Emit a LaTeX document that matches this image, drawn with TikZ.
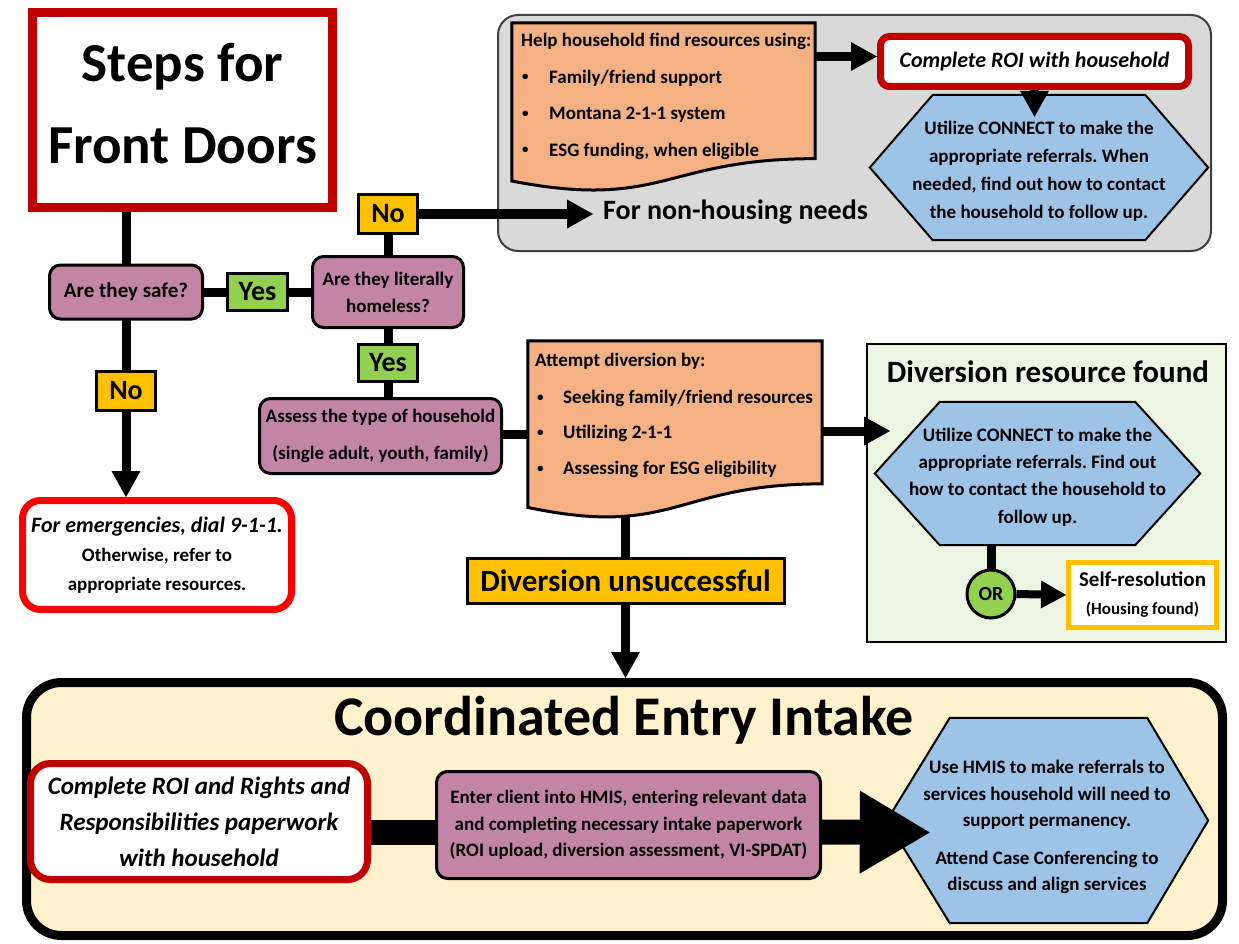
\documentclass[tikz,border=0pt]{standalone}
\usepackage{fontspec}
\setmainfont{Carlito}
\usetikzlibrary{arrows.meta,calc}
\pgfdeclarelayer{bg}
\pgfdeclarelayer{conn}
\pgfdeclarelayer{shapes}
\pgfsetlayers{bg,conn,shapes,main}
\definecolor{cpurple}{RGB}{194,133,166}
\definecolor{corange}{RGB}{244,177,131}
\definecolor{cblue}{RGB}{157,195,230}
\definecolor{cgreen}{RGB}{146,208,80}
\definecolor{camber}{RGB}{255,192,0}
\definecolor{cdred}{RGB}{192,0,0}
\definecolor{cred}{RGB}{255,0,0}
\definecolor{cgray}{RGB}{217,217,217}
\definecolor{cpale}{RGB}{236,244,227}
\definecolor{ccream}{RGB}{255,242,204}
\frenchspacing
\newcommand\myfont[2]{\fontsize{#1}{#2}\selectfont\bfseries\frenchspacing}
\newcommand\mybullet[1]{\makebox[#1][l]{\raisebox{2.5pt}{\fontsize{13}{13}\selectfont •}}}
\tikzset{
  pbox/.style={draw=black, line width=3pt, fill=cpurple, rounded corners=11pt, inner sep=0pt, align=center},
  tagbox/.style={draw=black, line width=3pt, inner sep=0pt, font=\myfont{28}{30}},
  hexnode/.style={inner sep=0pt},
  hextext/.style={inner sep=0pt, align=center},
  hexline/.style={draw=black, line width=2pt, fill=cblue},
  docline/.style={draw=black, line width=3pt, fill=corange},
  txt/.style={inner sep=0pt, font=\myfont{19}{22}},
  conn/.style={line width=9pt},
  arrowconn/.style={line width=9pt, -{Triangle[length=26pt,width=29pt,line width=0pt]}},
  bar/.style={line width=25pt},
  bigarrow/.style={line width=25pt, -{Triangle[length=70pt,width=83pt,line width=0pt]}},
  panel/.style={inner sep=0pt}
}
\begin{document}
\begin{tikzpicture}[x=1pt,y=-1pt]
\useasboundingbox (0,0) rectangle (1239,944);
\begin{pgfonlayer}{bg}
  \fill[white] (0,0) rectangle (1239,944);
  \node[panel, draw=black!75, line width=2pt, fill=cgray, rounded corners=20pt,
        minimum width=713pt, minimum height=236pt] (graypanel) at (854.5,133) {};
  \node[panel, draw=black, line width=2pt, fill=cpale,
        minimum width=359pt, minimum height=298pt] (greenpanel) at (1046.5,493) {};
  \node[panel, draw=black, line width=9pt, fill=ccream, rounded corners=35pt,
        minimum width=1196pt, minimum height=253pt] (cei) at (624.5,809) {};
\end{pgfonlayer}

% title
\node[draw=cdred, line width=9pt, fill=white, minimum width=300pt, minimum height=195pt,
      inner sep=0pt] (title) at (182.5,110) {};
\node[inner sep=0pt, align=center, font=\myfont{55}{82}] (titletxt) at (182.5,104) {Steps for\\Front Doors};

% decision column
\node[pbox, minimum width=153pt, minimum height=54pt, font=\myfont{21}{25}] (safe) at (126,292) {Are they safe?};
\node[tagbox, fill=cgreen, minimum width=60pt, minimum height=37pt] (yes1) at (257.5,292) {Yes};
\node[pbox, minimum width=151pt, minimum height=71pt, font=\myfont{19}{27}] (home) at (388,292) {Are they literally\\homeless?};
\node[tagbox, fill=camber, minimum width=59pt, minimum height=39pt] (no1) at (388,214) {No};
\node[tagbox, fill=cgreen, minimum width=59pt, minimum height=37pt] (yes2) at (388,363) {Yes};
\node[pbox, minimum width=242pt, minimum height=75pt, font=\myfont{19}{37}] (assess) at (380.5,436) {Assess the type of household\\(single adult, youth, family)};
\node[tagbox, fill=camber, minimum width=59pt, minimum height=39pt] (no2) at (126,391) {No};
\node[draw=cred, line width=7pt, fill=white, rounded corners=18pt, minimum width=269pt, minimum height=109pt,
      inner sep=0pt, align=center, font=\myfont{19}{29}] (emerg) at (157,555)
      {{\fontsize{22}{29}\selectfont\itshape For emergencies, dial 9-1-1.}\\Otherwise, refer to\\appropriate resources.};

% non-housing panel
\node[minimum width=303pt, minimum height=169pt, inner sep=0pt] (help) at (663.5,107.5) {};
\node[txt, anchor=base west] (h1) at (521,46.5) {Help household find resources using:};
\node[txt, anchor=base west] (h2) at (522,83.5) {\mybullet{27pt}Family/friend support};
\node[txt, anchor=base west] (h3) at (522,120) {\mybullet{27pt}Montana 2-1-1 system};
\node[txt, anchor=base west] (h4) at (522,156.5) {\mybullet{27pt}ESG funding, when eligible};
\node[draw=cdred, line width=7pt, fill=white, rounded corners=9pt, minimum width=308pt, minimum height=50pt,
      inner sep=0pt, font=\myfont{22}{26}\itshape] (roi1) at (1034.5,61.5) {Complete ROI with household};
\node[hexnode, minimum width=338pt, minimum height=145pt] (hex1) at (1039,167.5) {};
\node[hextext, font=\myfont{19}{28}] (hex1txt) at (1039,171)
      {Utilize CONNECT to make the\\appropriate referrals. When\\needed, find out how to contact\\the household to follow up.};
\node[inner sep=0pt, anchor=west, font=\myfont{28}{30}] (nonh) at (603,212) {For non-housing needs};

% diversion
\node[minimum width=294pt, minimum height=178pt, inner sep=0pt] (attempt) at (675,430) {};
\node[txt, anchor=base west] (a1) at (535,366.5) {Attempt diversion by:};
\node[txt, anchor=base west] (a2) at (537,403.5) {\mybullet{26pt}Seeking family/friend resources};
\node[txt, anchor=base west] (a3) at (537,438.5) {\mybullet{26pt}Utilizing 2-1-1};
\node[txt, anchor=base west] (a4) at (537,474.5) {\mybullet{26pt}Assessing for ESG eligibility};
\node[tagbox, fill=camber, minimum width=317pt, minimum height=45pt, font=\myfont{31}{34}] (divu) at (625.5,581) {Diversion unsuccessful};

% diversion resource found
\node[inner sep=0pt, font=\myfont{31}{34}] (gtitle) at (1048,372) {Diversion resource found};
\node[hexnode, minimum width=325pt, minimum height=143pt] (hex2) at (1037.5,473.5) {};
\node[hextext, font=\myfont{19}{27.3}] (hex2txt) at (1037.5,477)
      {Utilize CONNECT to make the\\appropriate referrals. Find out\\how to contact the household to\\follow up.};
\node[circle, draw=black, line width=3pt, fill=cgreen, minimum size=48pt, inner sep=0pt, font=\myfont{20}{22}] (or) at (991,594) {OR};
\node[draw=camber, line width=5pt, fill=white, minimum width=148pt, minimum height=65pt, inner sep=0pt,
      align=center, font=\myfont{21}{28}] (self) at (1142.5,595) {Self-resolution\\{\fontsize{17}{28}\selectfont (Housing found)}};

% coordinated entry intake
\node[inner sep=0pt, font=\myfont{56}{60}] (ceititle) at (624,720) {Coordinated Entry Intake};
\node[draw=cdred, line width=7pt, fill=white, rounded corners=20pt, minimum width=337pt, minimum height=116pt,
      inner sep=0pt, align=center, font=\myfont{25}{36}\itshape] (roi2) at (199,821.5)
      {Complete ROI and Rights and\\Responsibilities paperwork\\with household};
\node[pbox, minimum width=384pt, minimum height=107pt, font=\myfont{19}{26.5}] (hmis) at (628.5,825)
      {Enter client into HMIS, entering relevant data\\and completing necessary intake paperwork\\(ROI upload, diversion assessment, VI-SPDAT)};
\node[hexnode, minimum width=321pt, minimum height=205pt] (hex3) at (1047.5,820.5) {};
\node[hextext, font=\myfont{19}{26.5}] (hex3txt) at (1047,827)
      {Use HMIS to make referrals to\\services household will need to\\support permanency.\\[11pt]Attend Case Conferencing to\\discuss and align services};

% outlines of custom shapes
\begin{pgfonlayer}{shapes}
  \draw[docline] (help.north west) -- (help.north east)
     -- ($(help.north east)!0.802!(help.south east)$)
     .. controls ($(help.north)!0.802!(help.south)$) and ($(help.north)!1.107!(help.south)$)
     .. ($(help.north west)!0.934!(help.south west)$) -- cycle;
  \draw[docline] (attempt.north west) -- (attempt.north east)
     -- ($(attempt.north east)!0.802!(attempt.south east)$)
     .. controls ($(attempt.north)!0.802!(attempt.south)$) and ($(attempt.north)!1.107!(attempt.south)$)
     .. ($(attempt.north west)!0.934!(attempt.south west)$) -- cycle;
  \draw[hexline] (hex1.west) -- ([xshift=63pt]hex1.north west) -- ([xshift=-63pt]hex1.north east)
     -- (hex1.east) -- ([xshift=-63pt]hex1.south east) -- ([xshift=63pt]hex1.south west) -- cycle;
  \draw[hexline] (hex2.west) -- ([xshift=65pt]hex2.north west) -- ([xshift=-65pt]hex2.north east)
     -- (hex2.east) -- ([xshift=-65pt]hex2.south east) -- ([xshift=65pt]hex2.south west) -- cycle;
  \draw[hexline] (hex3.west) -- ([xshift=63pt]hex3.north west) -- ([xshift=-61pt]hex3.north east)
     -- (hex3.east) -- ([xshift=-61pt]hex3.south east) -- ([xshift=63pt]hex3.south west) -- cycle;
\end{pgfonlayer}

% plain connectors (behind the boxes)
\begin{pgfonlayer}{conn}
  \draw[conn] (safe.center |- title.center) -- (safe.center);
  \draw[conn] (safe.center) -- (home.center);
  \draw[conn] (home.center) -- (no1.center);
  \draw[conn] (home.center) -- (home.center |- assess.center);
  \draw[conn] (safe.center) -- (no2.center);
  \draw[conn] ($(assess.center)+(0,-2)$) -- ($(assess.center -| attempt.center)+(0,-2)$);
  \draw[conn] (divu.center) -- (divu.center |- attempt.center);
  \draw[conn] (or.center) -- (or.center |- hex2.center);
  \draw[bar] ($(hmis.center -| roi2.center)+(0,7)$) -- ($(hmis.center)+(0,7)$);
\end{pgfonlayer}

% arrows
\coordinate (nonhin) at ($(nonh.west)+(-10,0)$);
\coordinate (hex1in) at ($(roi1.south |- hex1.north)+(0,22)$);
\coordinate (hex2in) at (890,431);
\coordinate (hex3in) at ($(hex3.west)+(43,12)$);
\draw[arrowconn] (no1.east) -- (no1.east -| nonhin);
\draw[arrowconn] (no2.south) -- (no2.south |- emerg.north);
\draw[arrowconn] ($(roi1.west -| help.east)+(0,-5)$) -- ($(roi1.west)+(0,-5)$);
\draw[arrowconn] (roi1.south) -- (hex1in);
\draw[arrowconn] (attempt.east |- hex2in) -- (hex2in);
\draw[arrowconn] (divu.south) -- (divu.south |- cei.north);
\draw[line width=8pt, -{Triangle[length=25pt,width=28pt,line width=0pt]}] (or.east) -- (self.west);
\draw[bigarrow] ($(hmis.east)+(0,7)$) -- (hex3in);
\end{tikzpicture}
\end{document}
